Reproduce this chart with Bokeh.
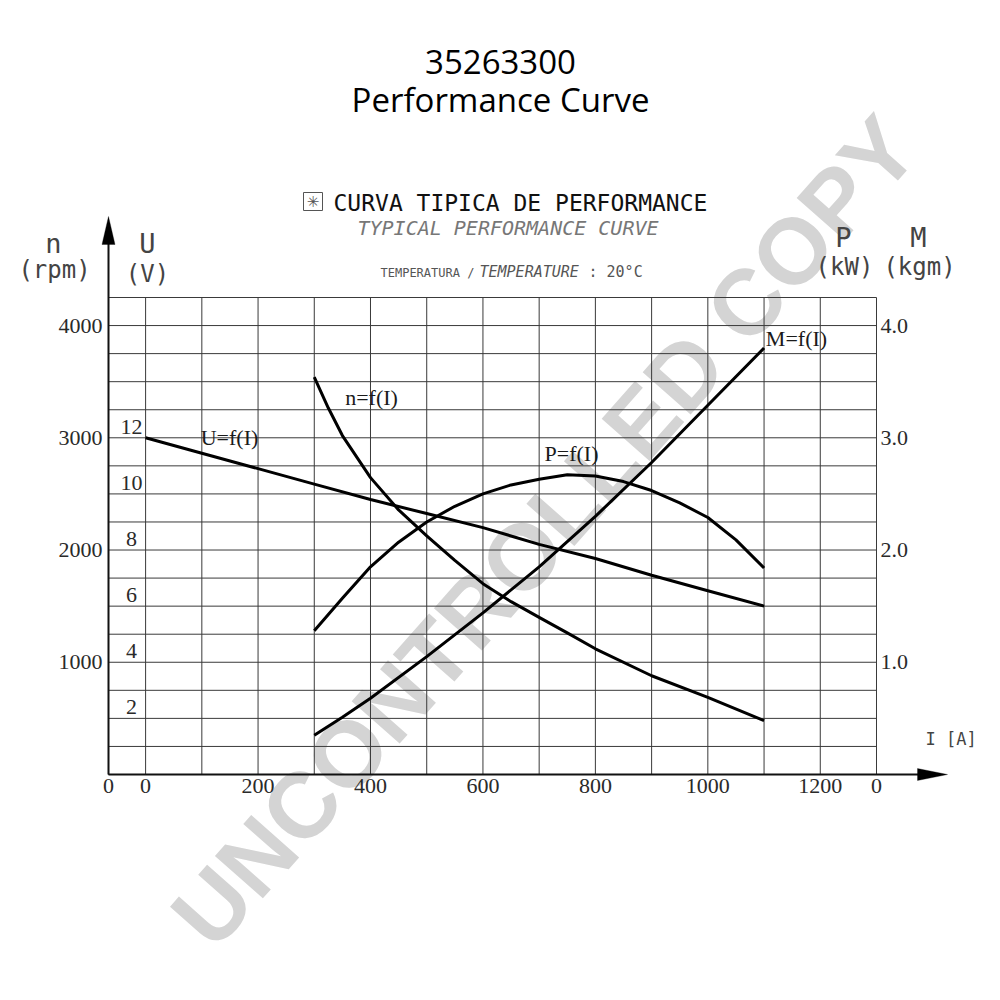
from bokeh.plotting import figure
from bokeh.models import (Range1d, LinearAxis, FixedTicker, Label, Grid,
                          PolyAnnotation, BoxAnnotation, PrintfTickFormatter)
from bokeh.core.properties import value
from bokeh.embed import file_html
from bokeh.resources import INLINE

# ---------------- data ----------------
I_U = [0, 100, 200, 300, 400, 500, 600, 700, 800, 900, 1000, 1100]
U_V = [12.0, 11.45, 10.9, 10.35, 9.8, 9.3, 8.8, 8.2, 7.7, 7.1, 6.55, 6.0]

I_N = [300, 325, 350, 400, 450, 500, 550, 600, 650, 700, 750, 800, 900, 1000, 1100]
N_RPM = [3540, 3265, 3020, 2645, 2357, 2127, 1907, 1700, 1540, 1400, 1262, 1120, 880, 688, 480]

I_P = [300, 350, 400, 450, 500, 550, 600, 650, 700, 750, 800, 850, 900, 950, 1000, 1050, 1100]
P_KW = [1.28, 1.57, 1.85, 2.07, 2.25, 2.39, 2.50, 2.58, 2.63, 2.67, 2.66, 2.61, 2.53, 2.42, 2.29, 2.09, 1.84]

I_M = [300, 350, 400, 500, 600, 700, 800, 900, 1000, 1100]
M_KGM = [0.35, 0.51, 0.68, 1.05, 1.44, 1.85, 2.30, 2.78, 3.29, 3.80]

I_TICKS = [0, 200, 400, 600, 800, 1000, 1200]
N_TICKS = [1000, 2000, 3000, 4000]
U_TICKS = [2, 4, 6, 8, 10, 12]
PM_TICKS = [1.0, 2.0, 3.0, 4.0]
I_GRID = [0, 100, 200, 300, 400, 500, 600, 700, 800, 900, 1000, 1100, 1200]
N_GRID = [250, 500, 750, 1000, 1250, 1500, 1750, 2000, 2250, 2500, 2750,
          3000, 3250, 3500, 3750, 4000]

# ---------------- layout ----------------
W = H = 992
X_LO, X_HI = -66, 1300          # chart box in data units (current, A)
Y_HI = 4250                     # chart box top (rpm)
FL, FR, FT, FB = 108, 876, 297, 774  # chart box edges in canvas pixels
KX = (X_HI - X_LO) / (FR - FL)
KY = Y_HI / (FB - FT)


def X(px):
    return X_LO + (px - FL) * KX


def Y(py):
    return (FB - py) * KY


p = figure(width=W, height=H, min_border=0,
           x_range=Range1d(X(0), X(W)), y_range=Range1d(Y(H), Y(0)),
           x_axis_location=None, y_axis_location=None,
           output_backend="svg", toolbar_location=None,
           background_fill_color="white", border_fill_color="white")
p.outline_line_color = None
p.center = [r for r in p.center if not isinstance(r, Grid)]
p.extra_y_ranges = {"pm": Range1d(Y(H) / 1000, Y(0) / 1000),
                    "u": Range1d(Y(H) / 250, Y(0) / 250)}

GRID_C = "#3a3a3a"
TICK_C = "#2a2a2a"
serif = "Liberation Serif"
mono = "DejaVu Sans Mono"

# watermark (below everything)
p.add_layout(Label(x=X(544), y=Y(531), text="UNCONTROLLED COPY", angle=48.5,
                   angle_units="deg", text_font="Liberation Sans",
                   text_font_style="bold", text_font_size="93px",
                   text_color="#d4d4d4", text_align="center",
                   text_baseline="middle", level="image"))

# grid
p.segment(x0=I_GRID, y0=[0] * len(I_GRID), x1=I_GRID, y1=[Y_HI] * len(I_GRID),
          line_color=GRID_C, line_width=1)
p.segment(x0=[X_LO] * len(N_GRID), y0=N_GRID, x1=[X_HI] * len(N_GRID), y1=N_GRID,
          line_color=GRID_C, line_width=1)
p.add_layout(BoxAnnotation(left=X_LO, right=X_HI, bottom=0, top=Y_HI,
                           fill_color=None, line_color=GRID_C, line_alpha=1,
                           line_width=1, level="underlay"))


def style_axis(ax, standoff):
    ax.major_tick_line_color = None
    ax.minor_tick_line_color = None
    ax.major_tick_out = 0
    ax.major_tick_in = 0
    ax.minor_tick_out = 0
    ax.major_label_standoff = standoff
    ax.major_label_text_font = serif
    ax.major_label_text_font_size = "22px"
    ax.major_label_text_color = TICK_C


# bottom axis (I)
xa = LinearAxis(fixed_location=0, bounds=(X_LO, X(920)),
                ticker=FixedTicker(ticks=[X_LO] + I_TICKS + [X_HI]),
                major_label_overrides={X_LO: "0", X_HI: "0"})
style_axis(xa, 4)
xa.axis_line_width = 2
xa.axis_line_color = "#111111"
p.add_layout(xa, "below")

# left axis (n)
ya = LinearAxis(fixed_location=X_LO, bounds=(0, Y(238)),
                ticker=FixedTicker(ticks=N_TICKS))
style_axis(ya, 6)
ya.axis_line_width = 2
ya.axis_line_color = "#111111"
p.add_layout(ya, "left")

# right axis (P, M)
ra = LinearAxis(y_range_name="pm", fixed_location=X_HI, bounds=(0, Y_HI / 1000),
                ticker=FixedTicker(ticks=PM_TICKS),
                formatter=PrintfTickFormatter(format="%.1f"))
style_axis(ra, 4)
ra.axis_line_color = None
p.add_layout(ra, "right")

# arrow heads
p.add_layout(PolyAnnotation(xs=[X(101.5), X(114.5), X(108)],
                            ys=[Y(244), Y(244), Y(216)],
                            fill_color="black", fill_alpha=1,
                            line_color="black", line_width=1))
p.add_layout(PolyAnnotation(xs=[X(917), X(917), X(947)],
                            ys=[Y(768), Y(780), Y(774)],
                            fill_color="black", fill_alpha=1,
                            line_color="black", line_width=1))

# U scale labels inside the chart box
p.text(x=[-25] * len(U_TICKS), y=U_TICKS, text=[str(v) for v in U_TICKS],
       y_range_name="u", y_offset=-11, text_font=value(serif),
       text_font_size="22px", text_color=TICK_C, text_align="center",
       text_baseline="middle")

# curves
lw = 3
kw = dict(line_width=lw, line_color="black", line_join="round")
p.line(I_U, U_V, y_range_name="u", **kw)
p.line(I_N, N_RPM, **kw)
p.line(I_P, P_KW, y_range_name="pm", **kw)
p.line(I_M, M_KGM, y_range_name="pm", **kw)


def lab(text, px, py, font=mono, size=24, color="#444444", align="center",
        style="normal", baseline="alphabetic"):
    # py is the visual baseline in canvas pixels; compensate renderer offset
    if baseline == "alphabetic":
        py = py - 0.36 * size
    p.add_layout(Label(x=X(px), y=Y(py), text=text, text_font=font,
                       text_font_size=f"{size}px", text_color=color,
                       text_align=align, text_font_style=style,
                       text_baseline=baseline))


# curve names
for txt, px, py in [("U=f(I)", 229, 437), ("n=f(I)", 371, 397),
                    ("P=f(I)", 571, 453), ("M=f(I)", 796, 338)]:
    lab(txt, px, py, font=serif, size=22, color="#1a1a1a", baseline="middle")

# titles
lab("35263300", 500, 73, font="Open Sans", size=33, color="black")
lab("Performance Curve", 500, 111, font="Open Sans", size=33, color="black")

# header
p.add_layout(BoxAnnotation(left=X(303), right=X(322), top=Y(192), bottom=Y(210),
                           fill_color=None, line_color="#555555", line_alpha=1,
                           line_width=1))
lab("\u2733\ufe0e", 312.5, 201, font="DejaVu Sans", size=15, color="#555555",
    baseline="middle")
lab("CURVA TIPICA DE PERFORMANCE", 333, 211, size=23, color="#111111",
    align="left")
lab("TYPICAL PERFORMANCE CURVE", 357, 235, size=20, color="#777777",
    align="left", style="italic")
lab("TEMPERATURA /", 380, 276.5, size=12, color="#555555", align="left")
lab("TEMPERATURE", 479, 276.5, size=15, color="#555555", align="left",
    style="italic")
lab(": 20\u00b0C", 588, 276.5, size=15, color="#555555", align="left")

# unit labels
lab("n", 53, 253, size=27)
lab("(rpm)", 54, 278, size=24)
lab("U", 147, 253, size=27)
lab("(V)", 147, 282, size=24)
lab("P", 843, 247, size=27)
lab("(kW)", 844, 275, size=24)
lab("M", 918, 247, size=27)
lab("(kgm)", 919, 275, size=24)
lab("I [A]", 925, 745, size=17, align="left")

open("out.html", "w").write(file_html(p, INLINE))
